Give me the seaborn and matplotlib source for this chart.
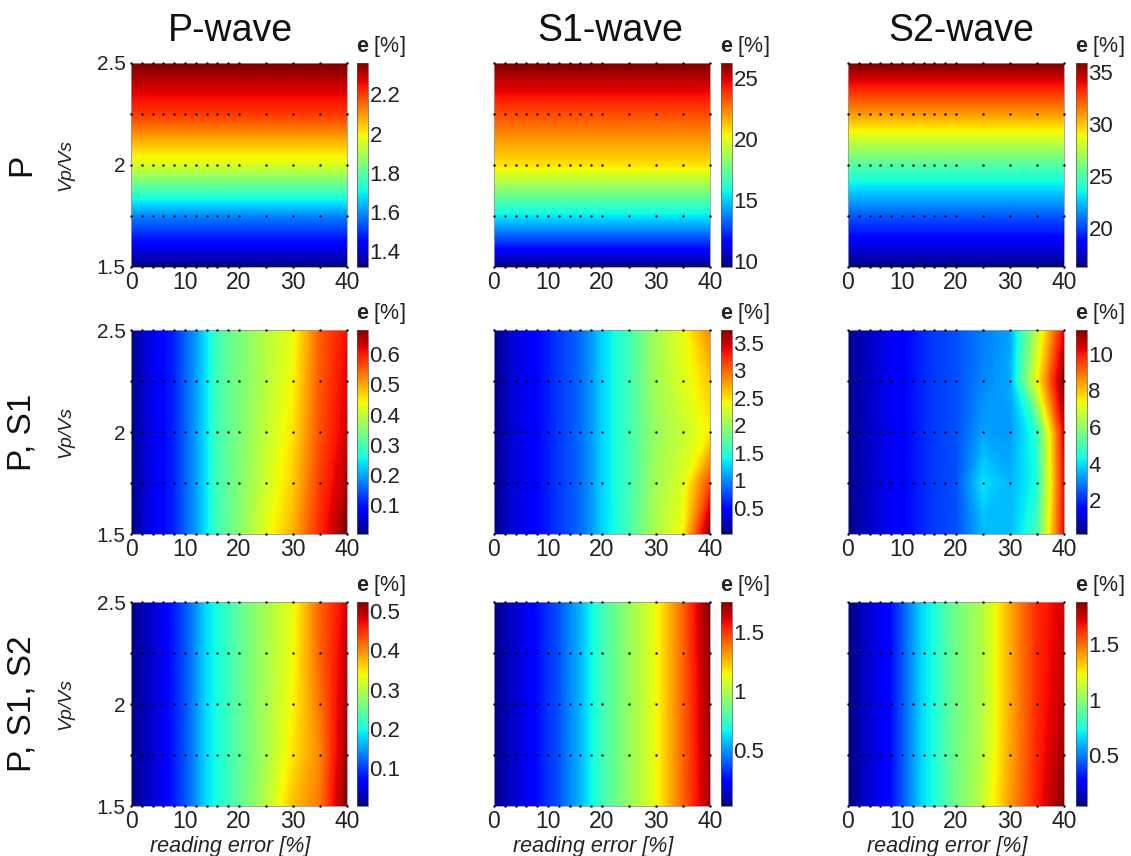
import numpy as np
import pandas as pd
import matplotlib
matplotlib.use("Agg")
import matplotlib.pyplot as plt
import seaborn as sns

sns.set_theme(style="white")
plt.rcParams["font.family"] = ["Liberation Sans", "DejaVu Sans"]
plt.rcParams["mathtext.fontset"] = "custom"
plt.rcParams["mathtext.bf"] = "Liberation Sans:bold"
plt.rcParams["mathtext.rm"] = "Liberation Sans"
plt.rcParams["mathtext.it"] = "Liberation Sans:italic"

# ---------------- data ----------------
reading_error = [0, 2, 4, 6, 8, 10, 12, 14, 16, 18, 20, 25, 30, 35, 40]
vp_vs = [1.5, 1.75, 2.0, 2.25, 2.5]

col_titles = ["P-wave", "S1-wave", "S2-wave"]
row_titles = ["P", "P, S1", "P, S1, S2"]

# Row "P": error depends only on Vp/Vs (values per vp_vs level)
P_Pwave = [1.32, 1.58, 1.95, 2.20, 2.36]
P_S1wave = [9.5, 15.3, 20.6, 23.3, 26.2]
P_S2wave = [16.2, 20.3, 25.0, 30.8, 35.9]

# Rows "P, S1" and "P, S1, S2": rows follow vp_vs (1.5 ... 2.5), columns follow reading_error
PS1_Pwave = [
    [0.005, 0.04, 0.07, 0.09, 0.11, 0.15, 0.19, 0.24, 0.29, 0.32, 0.350, 0.425, 0.490, 0.590, 0.68],
    [0.010, 0.04, 0.07, 0.09, 0.11, 0.15, 0.19, 0.24, 0.29, 0.32, 0.345, 0.410, 0.470, 0.575, 0.65],
    [0.010, 0.04, 0.07, 0.09, 0.11, 0.15, 0.19, 0.24, 0.29, 0.32, 0.340, 0.400, 0.455, 0.560, 0.63],
    [0.010, 0.04, 0.07, 0.09, 0.11, 0.15, 0.19, 0.24, 0.29, 0.32, 0.340, 0.390, 0.440, 0.555, 0.62],
    [0.010, 0.04, 0.07, 0.09, 0.11, 0.15, 0.19, 0.24, 0.29, 0.32, 0.340, 0.390, 0.430, 0.550, 0.61],
]
PS1_S1wave = [
    [0.02, 0.20, 0.32, 0.39, 0.48, 0.58, 0.69, 0.76, 0.87, 1.02, 1.24, 1.62, 2.10, 2.40, 3.73],
    [0.03, 0.20, 0.32, 0.39, 0.48, 0.58, 0.69, 0.76, 0.87, 1.02, 1.24, 1.60, 2.05, 2.30, 3.10],
    [0.03, 0.20, 0.32, 0.39, 0.48, 0.58, 0.69, 0.76, 0.87, 1.02, 1.24, 1.60, 2.00, 2.20, 2.45],
    [0.03, 0.20, 0.32, 0.39, 0.48, 0.58, 0.69, 0.76, 0.87, 1.02, 1.24, 1.60, 2.05, 2.30, 2.60],
    [0.03, 0.20, 0.32, 0.39, 0.48, 0.58, 0.69, 0.76, 0.87, 1.02, 1.24, 1.60, 2.05, 2.35, 2.85],
]
PS1_S2wave = [
    [0.15, 0.60, 0.82, 1.05, 1.27, 1.49, 1.72, 1.94, 2.17, 2.28, 2.39, 3.50, 3.60, 4.90, 10.2],
    [0.20, 0.60, 0.82, 1.05, 1.27, 1.49, 1.72, 1.94, 2.17, 2.28, 2.39, 4.00, 3.50, 4.40, 10.1],
    [0.20, 0.60, 0.82, 1.05, 1.27, 1.49, 1.72, 1.94, 2.17, 2.28, 2.39, 3.30, 3.20, 4.60, 10.3],
    [0.20, 0.60, 0.82, 1.05, 1.27, 1.49, 1.72, 1.94, 2.17, 2.28, 2.39, 3.00, 3.40, 7.20, 11.3],
    [0.20, 0.60, 0.82, 1.05, 1.27, 1.49, 1.72, 1.94, 2.17, 2.28, 2.39, 2.90, 3.30, 6.50, 10.2],
]
PS1S2_Pwave = [
    [0.004, 0.025, 0.04, 0.056, 0.082, 0.108, 0.14, 0.18, 0.20, 0.22, 0.243, 0.300, 0.370, 0.41, 0.523],
    [0.005, 0.025, 0.04, 0.056, 0.082, 0.108, 0.14, 0.18, 0.20, 0.22, 0.243, 0.290, 0.350, 0.40, 0.510],
    [0.005, 0.025, 0.04, 0.056, 0.082, 0.108, 0.14, 0.18, 0.20, 0.22, 0.243, 0.290, 0.340, 0.41, 0.500],
    [0.005, 0.025, 0.04, 0.056, 0.082, 0.108, 0.14, 0.18, 0.20, 0.22, 0.243, 0.290, 0.335, 0.42, 0.490],
    [0.005, 0.025, 0.04, 0.056, 0.082, 0.108, 0.14, 0.18, 0.20, 0.22, 0.243, 0.290, 0.330, 0.42, 0.480],
]
PS1S2_S1wave = [
    [0.02, 0.09, 0.14, 0.19, 0.25, 0.32, 0.37, 0.46, 0.54, 0.65, 0.75, 0.94, 1.12, 1.41, 1.70],
    [0.02, 0.09, 0.14, 0.19, 0.25, 0.32, 0.37, 0.46, 0.54, 0.65, 0.75, 0.94, 1.12, 1.41, 1.71],
    [0.02, 0.09, 0.14, 0.19, 0.25, 0.32, 0.37, 0.46, 0.54, 0.65, 0.75, 0.94, 1.12, 1.41, 1.72],
    [0.02, 0.09, 0.14, 0.19, 0.25, 0.32, 0.37, 0.46, 0.54, 0.65, 0.75, 0.94, 1.12, 1.41, 1.74],
    [0.02, 0.09, 0.14, 0.19, 0.25, 0.32, 0.37, 0.46, 0.54, 0.65, 0.75, 0.94, 1.12, 1.41, 1.76],
]
PS1S2_S2wave = [
    [0.04, 0.11, 0.17, 0.22, 0.28, 0.41, 0.54, 0.67, 0.74, 0.84, 0.93, 1.12, 1.40, 1.65, 1.88],
    [0.04, 0.11, 0.17, 0.22, 0.28, 0.41, 0.54, 0.67, 0.74, 0.84, 0.93, 1.09, 1.38, 1.64, 1.82],
    [0.04, 0.11, 0.17, 0.22, 0.28, 0.41, 0.54, 0.67, 0.74, 0.84, 0.93, 1.08, 1.37, 1.63, 1.78],
    [0.04, 0.11, 0.17, 0.22, 0.28, 0.41, 0.54, 0.67, 0.74, 0.84, 0.93, 1.08, 1.37, 1.63, 1.76],
    [0.04, 0.11, 0.17, 0.22, 0.28, 0.41, 0.54, 0.67, 0.74, 0.84, 0.93, 1.08, 1.37, 1.63, 1.74],
]

cbar_ticks = [
    [[1.4, 1.6, 1.8, 2.0, 2.2], [10, 15, 20, 25], [20, 25, 30, 35]],
    [[0.1, 0.2, 0.3, 0.4, 0.5, 0.6], [0.5, 1, 1.5, 2, 2.5, 3, 3.5], [2, 4, 6, 8, 10]],
    [[0.1, 0.2, 0.3, 0.4, 0.5], [0.5, 1, 1.5], [0.5, 1, 1.5]],
]

x_ticks = [0, 10, 20, 30, 40]
y_ticks = [1.5, 1.75, 2.0, 2.25, 2.5]
y_ticklabels = ["1.5", "", "2", "", "2.5"]

# ---------------- build grids ----------------
n_x = len(reading_error)
grids = [
    [np.repeat(np.array(P_Pwave)[:, None], n_x, axis=1),
     np.repeat(np.array(P_S1wave)[:, None], n_x, axis=1),
     np.repeat(np.array(P_S2wave)[:, None], n_x, axis=1)],
    [np.array(PS1_Pwave), np.array(PS1_S1wave), np.array(PS1_S2wave)],
    [np.array(PS1S2_Pwave), np.array(PS1S2_S1wave), np.array(PS1S2_S2wave)],
]
X, Y = np.meshgrid(reading_error, vp_vs)
grid_pts = pd.DataFrame({"reading error": X.ravel(), "Vp/Vs": Y.ravel()})

# ---------------- layout ----------------
W, H = 1131, 856
fig = plt.figure(figsize=(W / 100, H / 100), dpi=100)

col_ax_x = [131, 494, 848]
ax_w = 216
col_cb_x = [357, 721, 1076]
cb_w = 11
row_top = [63, 330, 602]
ax_h = 204
title_cx = [230, 610, 961]


def fx(px):
    return px / W


def fy(py):
    return 1 - py / H


cmap = plt.get_cmap("jet")

for r in range(3):
    for c in range(3):
        left = fx(col_ax_x[c])
        bottom = fy(row_top[r] + ax_h)
        ax = fig.add_axes([left, bottom, ax_w / W, ax_h / H])
        Z = grids[r][c]
        zmin, zmax = Z.min(), Z.max()
        levels = np.linspace(zmin, zmax, 257)
        cs = ax.contourf(X, Y, Z, levels=levels, cmap=cmap,
                         vmin=zmin, vmax=zmax, antialiased=False)
        cs.set_edgecolor("face")
        cs.set_linewidth(0.3)
        sns.scatterplot(data=grid_pts, x="reading error", y="Vp/Vs", ax=ax,
                        color="black", s=3, linewidth=0, legend=False,
                        clip_on=False, zorder=3)
        ax.set_xlim(0, 40)
        ax.set_ylim(1.5, 2.5)
        ax.set_xticks(x_ticks)
        ax.set_xticklabels([str(t) for t in x_ticks])
        ax.set_yticks(y_ticks)
        if c == 0:
            ax.set_yticklabels(y_ticklabels)
        else:
            ax.set_yticklabels([""] * len(y_ticks))
        ax.tick_params(axis="both", direction="out", length=3, width=0.6,
                       color="#444444", pad=1, labelcolor="#222222")
        ax.tick_params(axis="x", labelsize=16.5, pad=0)
        ax.tick_params(axis="y", labelsize=15)
        ax.set_xlabel("")
        ax.set_ylabel("")
        for s in ax.spines.values():
            s.set_color("#999999")
            s.set_linewidth(0.6)
        if r == 2:
            ax.text(0.46, -0.2, "reading error [%]", transform=ax.transAxes,
                    ha="center", va="center", fontsize=15.5, style="italic",
                    color="#222222")

        # colorbar
        cax = fig.add_axes([fx(col_cb_x[c]), bottom, cb_w / W, ax_h / H])
        sm = matplotlib.cm.ScalarMappable(
            norm=matplotlib.colors.Normalize(vmin=zmin, vmax=zmax), cmap=cmap)
        cb = fig.colorbar(sm, cax=cax, ticks=cbar_ticks[r][c])
        cb.ax.yaxis.set_major_formatter(matplotlib.ticker.FormatStrFormatter("%g"))
        cb.ax.tick_params(labelsize=16, length=0, pad=1, labelcolor="#222222")
        cb.outline.set_linewidth(0.5)
        cb.outline.set_edgecolor("#555555")
        fig.text(fx(col_cb_x[c] - 1), fy(row_top[r] - 4), r"$\mathbf{e}$ [%]",
                 ha="left", va="bottom", fontsize=15.5, color="#222222")

# column titles
for c in range(3):
    fig.text(fx(title_cx[c]), fy(31), col_titles[c],
             ha="center", va="center", fontsize=27, color="#111111")

# row labels
for r in range(3):
    yc = fy(row_top[r] + ax_h / 2)
    fig.text(fx(22), yc, row_titles[r], rotation=90, ha="center", va="center",
             fontsize=24, color="#111111")
    fig.text(fx(66), yc, "Vp/Vs", rotation=90, ha="center", va="center",
             fontsize=14, style="italic", color="#222222")

fig.savefig("out.png", dpi=100)
